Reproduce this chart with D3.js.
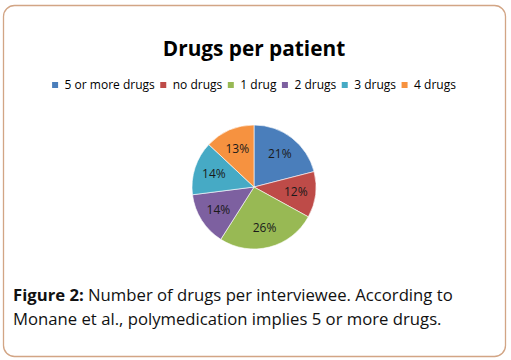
<!DOCTYPE html>
<html><head><meta charset="utf-8">
<script src="https://cdn.jsdelivr.net/npm/d3@7"></script>
<style>html,body{margin:0;padding:0;background:#fff;}</style>
</head><body>
<svg id="c" width="511" height="360"></svg>
<script>
const title = "Drugs per patient";
const categories = ["5 or more drugs", "no drugs", "1 drug", "2 drugs", "3 drugs", "4 drugs"];
const values = [21, 12, 26, 14, 14, 13];
const colors = ["#4A7EBB", "#BE4B48", "#98B954", "#7D60A0", "#46AAC5", "#F69240"];
const captionBold = "Figure 2:";
const captionLines = [" Number of drugs per interviewee. According to", "Monane et al., polymedication implies 5 or more drugs."];

const svg = d3.select("#c");
svg.append("rect").attr("x", 3.5).attr("y", 5.5).attr("width", 502).attr("height", 351)
  .attr("rx", 11).attr("fill", "#fff").attr("stroke", "#d2a585").attr("stroke-width", 1.3);

svg.append("text").attr("x", 254).attr("y", 56).attr("text-anchor", "middle")
  .style("font-family", "Open Sans").style("font-weight", "bold").style("font-size", "20.8px")
  .attr("fill", "#000").text(title);

// legend
const lg = svg.append("g");
const items = lg.selectAll("g").data(categories).join("g");
items.append("rect").attr("width", 6).attr("height", 6).attr("y", -7).attr("fill", (d, i) => colors[i]);
items.append("text").attr("x", 12.5).attr("y", 0).style("font-family", "Open Sans").style("font-size", "12px")
  .attr("fill", "#000").text(d => d);
let xpos = 0;
items.each(function() {
  const w = d3.select(this).select("text").node().getComputedTextLength();
  d3.select(this).attr("transform", `translate(${xpos},89)`);
  xpos += 12.5 + w + 5.5;
});
lg.attr("transform", `translate(${254 - (xpos - 5.5) / 2},0)`);

// pie
const cx = 254, cy = 187, r = 62;
const pie = d3.pie().sort(null).value(d => d)(values);
const arc = d3.arc().innerRadius(0).outerRadius(r);
const labelArc = d3.arc().innerRadius(r * 0.68).outerRadius(r * 0.68);
const pg = svg.append("g").attr("transform", `translate(${cx},${cy})`);
pg.selectAll("path").data(pie).join("path").attr("d", arc).attr("fill", (d, i) => colors[i])
  .attr("stroke", "#fff").attr("stroke-width", 0.6);
pg.selectAll("text").data(pie).join("text")
  .attr("transform", d => `translate(${labelArc.centroid(d)})`)
  .attr("text-anchor", "middle").attr("dy", "0.35em")
  .style("font-family", "Open Sans").style("font-size", "12px").attr("fill", "#1a1a1a")
  .text(d => d.data + "%");

// caption
const cap = svg.append("text").attr("x", 13).attr("y", 301)
  .style("font-family", "Open Sans").style("font-size", "16.7px").attr("fill", "#111");
cap.append("tspan").style("font-weight", "bold").text(captionBold);
cap.append("tspan").text(captionLines[0]);
svg.append("text").attr("x", 13).attr("y", 325)
  .style("font-family", "Open Sans").style("font-size", "16.7px").attr("fill", "#111").text(captionLines[1]);
</script>
</body></html>
